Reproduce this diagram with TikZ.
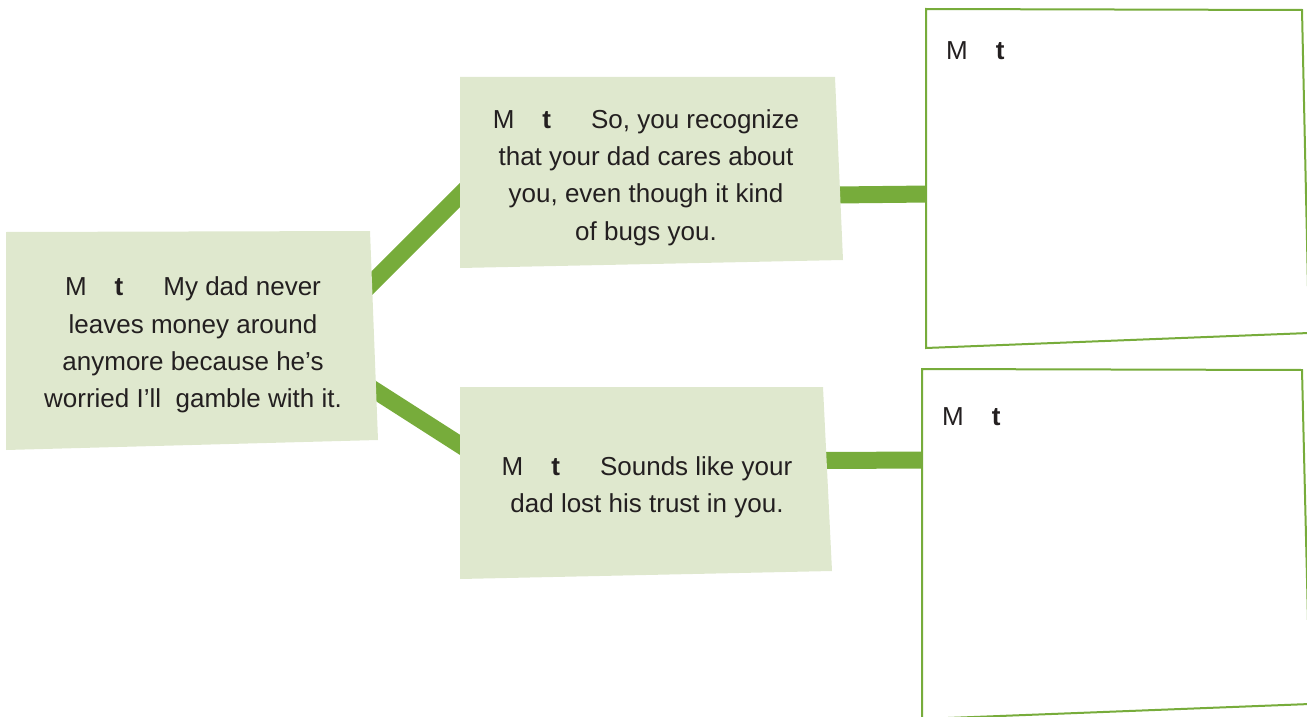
\documentclass[tikz,border=0pt]{standalone}
\usepackage{fontspec}
\setmainfont{Liberation Sans}
\usetikzlibrary{positioning}
\definecolor{leafgreen}{HTML}{77AC3B}
\definecolor{leaffill}{HTML}{DFE8CE}
\definecolor{inkgray}{HTML}{231F20}
\newcommand{\speaker}{M\hspace{28pt}\textbf{t}\hspace{40pt}}
\begin{document}
\begin{tikzpicture}[x=1pt,y=-1pt,
 note/.style={fill=leaffill},
 reply/.style={draw=leafgreen,line width=2pt,fill=white},
 link/.style={draw=leafgreen,line width=17pt},
 txt/.style={text=inkgray,align=center,inner sep=0pt,font=\fontsize{26}{37.3}\selectfont}]
\useasboundingbox (0,0) rectangle (1307,717);
% connector ends
\coordinate (stmtR1) at (366,289);
\coordinate (stmtR2) at (368,386);
\coordinate (upperL) at (467,188);
\coordinate (upperR) at (835,195);
\coordinate (lowerL) at (468,450);
\coordinate (lowerR) at (825,460.5);
\coordinate (ansA) at (930,194);
\coordinate (ansB) at (926,460);
\draw[link] (stmtR1) -- (upperL);
\draw[link] (stmtR2) -- (lowerL);
\draw[link] (upperR) -- (ansA);
\draw[link] (lowerR) -- (ansB);
% boxes
\fill[note] (6,232) -- (370,231) -- (378,440) -- (6,450) -- cycle;
\fill[note] (460,77) -- (835,77) -- (843,260) -- (460,268) -- cycle;
\fill[note] (460,387) -- (823,387) -- (832,571) -- (460,579) -- cycle;
\filldraw[reply] (926,9) -- (1302,10) -- (1309,333) -- (926,348) -- cycle;
\filldraw[reply] (922,369) -- (1302,370) -- (1310,704) -- (922,719) -- cycle;
% texts
\node[txt] (stmt) at (193,345) {\speaker My dad never\\ leaves money around\\ anymore because he’s\\ worried I’ll\ \ gamble with it.};
\node[txt] (upper) at (646,177.5) {\speaker So, you recognize\\ that your dad cares about\\ you, even though it kind\\ of bugs you.};
\node[txt] (lower) at (647,487.5) {\speaker Sounds like your\\ dad lost his trust in you.};
\node[txt,anchor=west] (answerA) at (946,51) {M\hspace{28pt}\textbf{t}};
\node[txt,anchor=west] (answerB) at (942,417) {M\hspace{28pt}\textbf{t}};
\end{tikzpicture}
\end{document}
